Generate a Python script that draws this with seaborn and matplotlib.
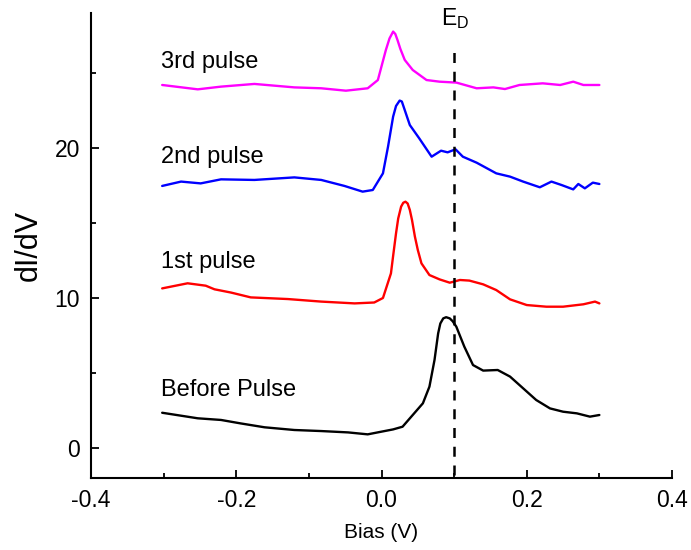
import numpy as np
import pandas as pd
import matplotlib
matplotlib.use("Agg")
import matplotlib.pyplot as plt
import seaborn as sns
from matplotlib.ticker import MultipleLocator, FuncFormatter

# --- spectra (bias in V, dI/dV in arb. units, offset per trace) ---
bias_before = [-0.302, -0.253, -0.221, -0.194, -0.161, -0.120, -0.083, -0.046, -0.019, 0.000,
               0.016, 0.029, 0.043, 0.057, 0.066, 0.073, 0.078, 0.081, 0.085, 0.089, 0.094,
               0.098, 0.103, 0.114, 0.126, 0.140, 0.160, 0.177, 0.195, 0.213, 0.232, 0.250,
               0.269, 0.287, 0.300]
didv_before = [2.35, 1.98, 1.87, 1.64, 1.38, 1.20, 1.13, 1.04, 0.91, 1.09,
               1.24, 1.42, 2.20, 2.98, 4.09, 5.87, 7.64, 8.30, 8.64, 8.72, 8.64,
               8.45, 8.09, 6.76, 5.53, 5.16, 5.20, 4.76, 3.98, 3.20, 2.64, 2.42,
               2.31, 2.09, 2.20]

bias_1st = [-0.302, -0.267, -0.242, -0.230, -0.207, -0.180, -0.129, -0.083, -0.037, -0.010,
            0.002, 0.013, 0.016, 0.020, 0.023, 0.027, 0.030, 0.033, 0.036, 0.039, 0.042,
            0.046, 0.050, 0.055, 0.066, 0.080, 0.094, 0.108, 0.121, 0.140, 0.158, 0.177,
            0.200, 0.227, 0.250, 0.278, 0.294, 0.300]
didv_1st = [10.64, 10.98, 10.82, 10.58, 10.36, 10.04, 9.93, 9.76, 9.64, 9.70,
            10.00, 11.64, 12.80, 14.31, 15.30, 16.09, 16.35, 16.42, 16.30, 15.87, 15.20,
            14.09, 13.20, 12.31, 11.53, 11.24, 11.02, 11.20, 11.16, 10.91, 10.53, 9.91,
            9.53, 9.42, 9.42, 9.58, 9.76, 9.64]

bias_2nd = [-0.302, -0.276, -0.249, -0.221, -0.175, -0.120, -0.083, -0.051, -0.026, -0.012,
            0.002, 0.009, 0.016, 0.020, 0.025, 0.028, 0.032, 0.035, 0.039, 0.052, 0.069,
            0.082, 0.091, 0.102, 0.112, 0.131, 0.158, 0.177, 0.195, 0.218, 0.234, 0.248,
            0.264, 0.271, 0.280, 0.291, 0.300]
didv_2nd = [17.47, 17.76, 17.64, 17.91, 17.87, 18.04, 17.87, 17.47, 17.09, 17.20,
            18.31, 20.09, 22.09, 22.80, 23.16, 23.10, 22.53, 22.10, 21.53, 20.64, 19.42,
            19.82, 19.71, 19.91, 19.42, 19.02, 18.31, 18.09, 17.76, 17.38, 17.76, 17.53,
            17.24, 17.60, 17.31, 17.69, 17.60]

bias_3rd = [-0.302, -0.253, -0.221, -0.175, -0.120, -0.083, -0.049, -0.019, -0.005, 0.006,
            0.011, 0.016, 0.019, 0.022, 0.026, 0.032, 0.043, 0.062, 0.080, 0.103, 0.131,
            0.154, 0.170, 0.190, 0.222, 0.246, 0.264, 0.278, 0.300]
didv_3rd = [24.20, 23.91, 24.09, 24.27, 24.04, 23.98, 23.82, 23.98, 24.53, 26.53,
            27.30, 27.76, 27.60, 27.20, 26.60, 25.87, 25.20, 24.53, 24.42, 24.36, 23.98,
            24.04, 23.93, 24.20, 24.31, 24.20, 24.42, 24.20, 24.20]

trace_names = ["Before Pulse", "1st pulse", "2nd pulse", "3rd pulse"]
trace_colors = ["#000000", "#ff0000", "#0000ff", "#ff00ff"]
label_y = [3.47, 11.98, 18.98, 25.3]

dirac_bias = 0.1

sns.set_style("ticks")
plt.rcParams["font.family"] = ["Liberation Sans", "DejaVu Sans"]
plt.rcParams.update({
    "text.color": "black",
    "axes.labelcolor": "black",
    "axes.edgecolor": "black",
    "xtick.color": "black",
    "ytick.color": "black",
})

df = pd.concat([
    pd.DataFrame({"bias": b, "didv": d, "trace": n})
    for b, d, n in zip([bias_before, bias_1st, bias_2nd, bias_3rd],
                       [didv_before, didv_1st, didv_2nd, didv_3rd],
                       trace_names)
], ignore_index=True)

fig = plt.figure(figsize=(6.91, 5.5), dpi=100)
ax = fig.add_axes([0.1317, 0.1309, 0.8408, 0.8455])

sns.lineplot(data=df, x="bias", y="didv", hue="trace",
             palette=dict(zip(trace_names, trace_colors)),
             estimator=None, sort=False, legend=False, linewidth=1.7, ax=ax)

# Dirac point marker
ax.plot([dirac_bias, dirac_bias], [-1.8, 26.5], color="black", lw=1.8,
        linestyle=(0, (4, 3.5)))
ax.text(dirac_bias + 0.002, 28.6, r"E$_\mathregular{D}$", fontsize=16.5,
        ha="center", va="center")

for name, y in zip(trace_names, label_y):
    ax.text(-0.303, y, name, fontsize=17, ha="left", va="baseline")

ax.set_xlim(-0.4, 0.4)
ax.set_ylim(-2, 29)
ax.xaxis.set_major_locator(MultipleLocator(0.2))
ax.xaxis.set_minor_locator(MultipleLocator(0.1))
ax.yaxis.set_major_locator(MultipleLocator(10))
ax.yaxis.set_minor_locator(MultipleLocator(5))
ax.xaxis.set_major_formatter(FuncFormatter(
    lambda v, p: "0.0" if abs(v) < 1e-9 else f"{v:.1f}"))

sns.despine(ax=ax)
for s in ("left", "bottom"):
    ax.spines[s].set_linewidth(1.5)
ax.tick_params(which="both", direction="in", width=1.3, labelsize=16.5)
ax.tick_params(which="major", length=6)
ax.tick_params(which="minor", length=3.5)
ax.tick_params(axis="x", pad=8)
ax.tick_params(axis="y", pad=8)

ax.set_xlabel("Bias (V)", fontsize=15, labelpad=8)
ax.set_ylabel("dI/dV", fontsize=22, labelpad=8)

fig.savefig("out.png", dpi=100)
